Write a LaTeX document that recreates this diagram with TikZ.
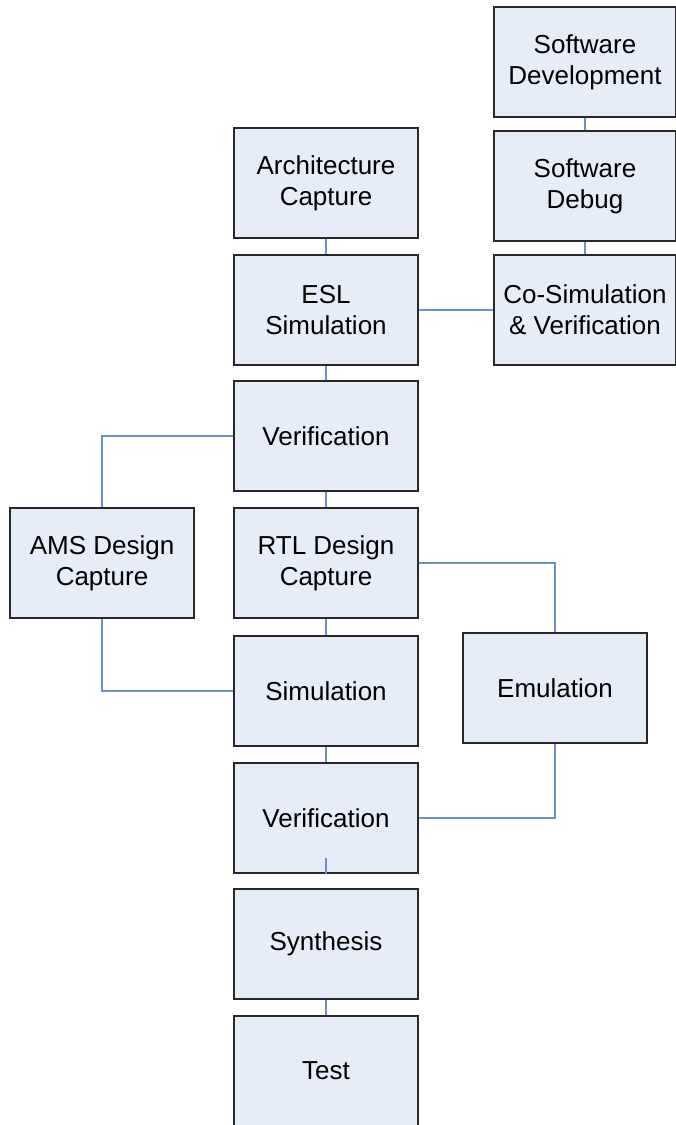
\documentclass[tikz,border=0pt]{standalone}
\usepackage{fontspec}
\setmainfont{Liberation Sans}
\usepackage{tikz}

\definecolor{boxfill}{RGB}{231,237,248}
\definecolor{boxline}{RGB}{40,40,40}
\definecolor{linkblue}{RGB}{105,145,210}

\begin{document}
\begin{tikzpicture}[x=1pt,y=-1pt,
  stage/.style={draw=boxline,fill=boxfill,line width=1.5pt,minimum width=184pt,minimum height=110pt,inner sep=0pt,align=center,font=\fontsize{26}{31}\selectfont},
  link/.style={draw=linkblue,line width=1.5pt}]
%set diagram left start at 0, and has height of 1125
\useasboundingbox (0,0) rectangle (676,1125);

% Software column
\node [stage,minimum width=182pt] (swdev) at (585,62) {Software\\Development};
\node [stage,minimum width=182pt] (swdebug) at (585,186) {Software\\Debug};
\node [stage,minimum width=182pt] (cosim) at (585,310) {Co-Simulation\\\& Verification};

% Main column
\node [stage] (arch) at (326,183) {Architecture\\Capture};
\node [stage] (esl) at (326,310) {ESL\\Simulation};
\node [stage] (verifA) at (326,436) {Verification};
\node [stage] (rtl) at (326,563) {RTL Design\\Capture};
\node [stage] (sim) at (326,691) {Simulation};
\node [stage] (verifB) at (326,818) {Verification};
\node [stage] (synth) at (326,944) {Synthesis};
\node [stage] (test) at (326,1071) {Test};

% Side boxes
\node [stage] (ams) at (102,563) {AMS Design\\Capture};
\node [stage] (emu) at (555,688) {Emulation};

%Straight Lines
\draw [link] (swdev) -- (swdebug);
\draw [link] (swdebug) -- (cosim);
\draw [link] (arch) -- (esl);
\draw [link] (esl) -- (cosim);
\draw [link] (esl) -- (verifA);
\draw [link] (verifA) -- (rtl);
\draw [link] (rtl) -- (sim);
\draw [link] (sim) -- (verifB);
\draw [link] (synth) -- (test);
%Elbow Lines
\draw [link] (verifA.west) -| (ams.north);
\draw [link] (ams.south) |- (sim.west);
\draw [link] (rtl.east) -| (emu.north);
\draw [link] (emu.south) |- (verifB.east);
%Stub inside lower verification box
\coordinate (stub) at (326,858);
\draw [link] (stub) -- (verifB.south);

\end{tikzpicture}
\end{document}
